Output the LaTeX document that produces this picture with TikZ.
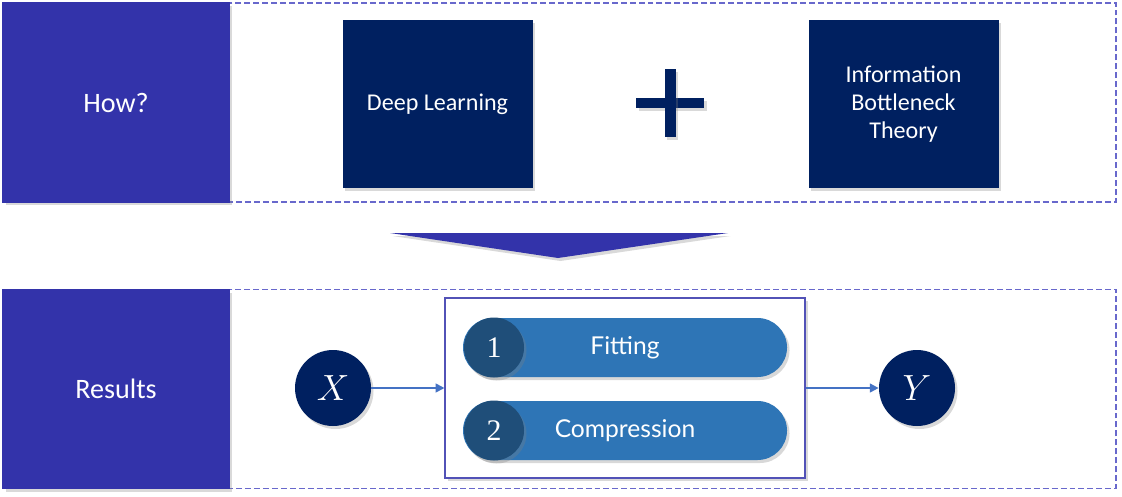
\documentclass[tikz,border=0pt]{standalone}
\usepackage{fontspec}
\setmainfont{Carlito}
\newfontfamily\latofont{Lato}
\newfontfamily\numfont{Liberation Serif}
\usetikzlibrary{positioning,arrows.meta,shapes.misc,shadows}

\definecolor{bandblue}{RGB}{51,51,170}
\definecolor{dashblue}{RGB}{104,104,204}
\definecolor{navy}{RGB}{0,32,96}
\definecolor{pillblue}{RGB}{46,117,182}
\definecolor{numblue}{RGB}{31,78,121}
\definecolor{linkblue}{RGB}{68,114,196}

\tikzset{
  softshadow/.style = {drop shadow={opacity=0.3,shadow xshift=0.05cm,shadow yshift=-0.06cm}},
  band/.style = {draw=dashblue, dash pattern=on 3.4pt off 1.7pt, line width=0.6pt,
    minimum width=22.26cm, minimum height=3.98cm, inner sep=0pt},
  tag/.style = {fill=bandblue, draw=bandblue, line width=1pt, text=white, minimum width=4.52cm,
    minimum height=3.98cm, inner sep=0pt, font=\fontsize{16}{19}\selectfont, softshadow},
  topic/.style = {fill=navy, text=white, minimum width=3.8cm, minimum height=3.36cm,
    align=center, font=\fontsize{13.7}{16}\selectfont, softshadow},
  var/.style = {circle, fill=navy, text=white, minimum size=1.52cm, inner sep=0pt,
    font=\fontsize{21}{23}\selectfont, softshadow},
  pill/.style = {rounded rectangle, fill=pillblue, text=white, minimum width=6.48cm,
    minimum height=1.18cm, inner sep=0pt, font=\latofont\fontsize{14}{16}\selectfont, softshadow},
  numdot/.style = {circle, fill=numblue, text=white, minimum size=1.2cm, inner sep=0pt,
    font=\numfont\fontsize{17}{19}\selectfont, softshadow},
  link/.style = {draw=linkblue, line width=1pt, -{Triangle[length=5pt,width=5pt]}}
}

\begin{document}
\begin{tikzpicture}
\useasboundingbox (0,0) rectangle (22.44,9.92);

% top band
\node[band] (topband) at (11.19,7.87) {};
\node[tag] (how) at (2.32,7.87) {How?};
\node[topic] (deep) at (8.75,7.84) {Deep Learning};
\node[topic] (ib) at (18.07,7.84) {Information\\ Bottleneck\\ Theory};

% plus sign
\fill[navy,softshadow] (12.72,7.76) rectangle (14.08,7.96);
\fill[navy,softshadow] (13.29,7.18) rectangle (13.51,8.54);

% arrow between bands
\coordinate (tl) at (7.8,5.26);
\coordinate (tr) at (14.56,5.26);
\coordinate (tip) at (11.16,4.76);
\fill[bandblue,softshadow] (tl) -- (tr) -- (tip) -- cycle;

% bottom band
\node[band] (botband) at (11.19,2.14) {};
\node[tag] (res) at (2.32,2.14) {Results};

% stages
\node[draw=bandblue!85!white, line width=0.6pt, fill=white, minimum width=7.2cm,
  minimum height=3.6cm, inner sep=0pt, softshadow] (stages) at (12.5,2.16) {};
\node[pill] (fit) at (12.5,2.97) {Fitting};
\node[pill] (comp) at (12.5,1.31) {Compression};
\node[numdot] (one) at (9.88,2.97) {1};
\node[numdot] (two) at (9.88,1.31) {2};

% input and output
\node[var] (x) at (6.66,2.16) {$X$};
\node[var] (y) at (18.34,2.16) {$Y$};
\draw[link] (x) -- (stages);
\draw[link] (stages) -- (y);
\end{tikzpicture}
\end{document}
